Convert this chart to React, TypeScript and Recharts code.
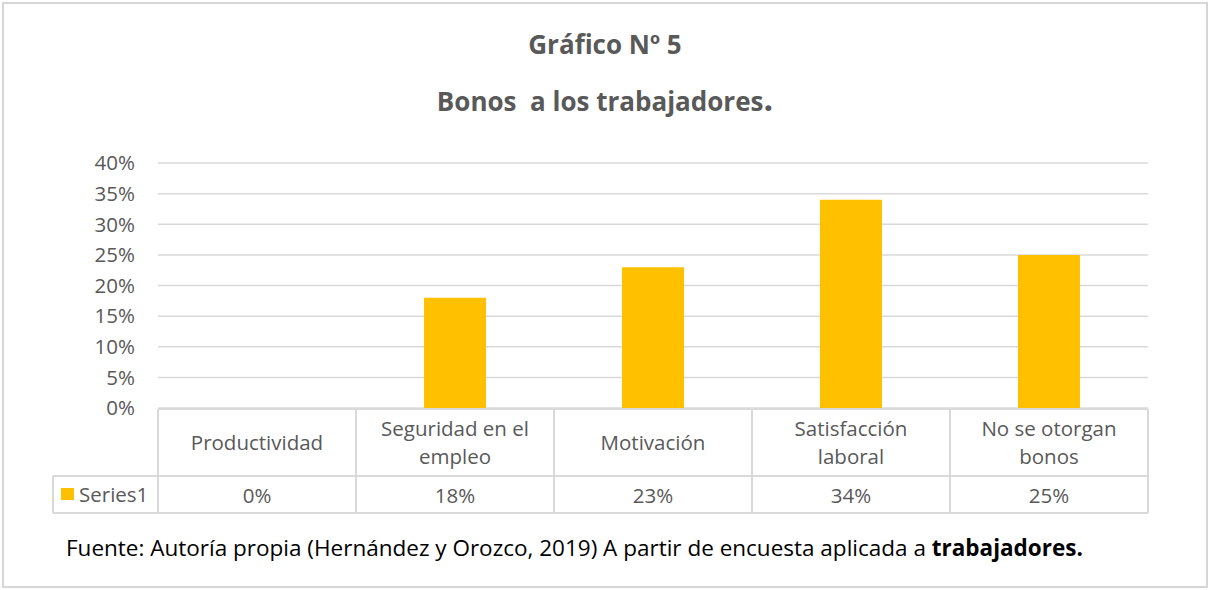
import { Bar, BarChart, CartesianGrid, XAxis, YAxis } from "recharts";

const categories = [
  "Productividad",
  "Seguridad en el empleo",
  "Motivación",
  "Satisfacción laboral",
  "No se otorgan bonos",
];
const series1 = [0, 0.18, 0.23, 0.34, 0.25];
const yTicks = [0, 0.05, 0.1, 0.15, 0.2, 0.25, 0.3, 0.35, 0.4];
const seriesName = "Series1";

const data = categories.map((c, i) => ({ name: c, value: series1[i] }));

const W = 1210;
const H = 590;
const PLOT_LEFT = 158;
const PLOT_RIGHT = 1148;
const PLOT_TOP = 163;
const TABLE_H = 105;
const BOTTOM = 77;
const PLOT_BOTTOM = H - BOTTOM - TABLE_H;
const ROW_SPLIT = 476;
const TABLE_BOTTOM = PLOT_BOTTOM + TABLE_H;
const BAND = (PLOT_RIGHT - PLOT_LEFT) / categories.length;
const LEGEND_LEFT = 53;

const GOLD = "#FFC000";
const GRID = "#D9D9D9";
const TEXT = "#595959";
const FONT = "'Open Sans', sans-serif";
const CELL_FONT = 20.5;

const pct = (v: number) => `${Math.round(v * 100)}%`;

function wrap(label: string, max = 15) {
  const lines: string[] = [];
  let cur = "";
  for (const w of label.split(" ")) {
    const next = cur ? `${cur} ${w}` : w;
    if (next.length > max && cur) {
      lines.push(cur);
      cur = w;
    } else cur = next;
  }
  if (cur) lines.push(cur);
  return lines;
}

function TableTick(props: any) {
  const { x, index, payload } = props;
  const l = x - BAND / 2;
  const r = x + BAND / 2;
  const lines = wrap(String(payload.value));
  const midTop = (PLOT_BOTTOM + ROW_SPLIT) / 2;
  const lh = 28;
  const startY = midTop - ((lines.length - 1) * lh) / 2;
  const top = PLOT_BOTTOM + 1;
  return (
    <g>
      <line x1={l} x2={r} y1={top} y2={top} stroke={GRID} strokeWidth={2} />
      <line x1={l} x2={r} y1={ROW_SPLIT} y2={ROW_SPLIT} stroke={GRID} strokeWidth={2} />
      <line x1={l} x2={r} y1={TABLE_BOTTOM} y2={TABLE_BOTTOM} stroke={GRID} strokeWidth={2} />
      <line x1={r} x2={r} y1={top} y2={TABLE_BOTTOM} stroke={GRID} strokeWidth={2} />
      {index === 0 && (
        <g>
          <line x1={l} x2={l} y1={top} y2={TABLE_BOTTOM} stroke={GRID} strokeWidth={2} />
          <line x1={LEGEND_LEFT} x2={l} y1={ROW_SPLIT} y2={ROW_SPLIT} stroke={GRID} strokeWidth={2} />
          <line x1={LEGEND_LEFT} x2={l} y1={TABLE_BOTTOM} y2={TABLE_BOTTOM} stroke={GRID} strokeWidth={2} />
          <line x1={LEGEND_LEFT} x2={LEGEND_LEFT} y1={ROW_SPLIT} y2={TABLE_BOTTOM} stroke={GRID} strokeWidth={2} />
          <rect x={LEGEND_LEFT + 8} y={488} width={13} height={12} fill={GOLD} />
          <text x={LEGEND_LEFT + 26} y={494} dominantBaseline="central" fill={TEXT} fontSize={CELL_FONT} fontFamily={FONT}>
            {seriesName}
          </text>
        </g>
      )}
      {lines.map((ln, i) => (
        <text
          key={i}
          x={x}
          y={startY + i * lh}
          textAnchor="middle"
          dominantBaseline="central"
          fill={TEXT}
          fontSize={CELL_FONT}
          fontFamily={FONT}
        >
          {ln}
        </text>
      ))}
      <text
        x={x}
        y={(ROW_SPLIT + TABLE_BOTTOM) / 2}
        textAnchor="middle"
        dominantBaseline="central"
        fill={TEXT}
        fontSize={CELL_FONT}
        fontFamily={FONT}
      >
        {pct(series1[index])}
      </text>
    </g>
  );
}

export default function App() {
  const titleStyle = {
    position: "absolute" as const,
    left: 0,
    width: W,
    textAlign: "center" as const,
    fontFamily: FONT,
    fontWeight: 700,
    fontSize: 26,
    color: TEXT,
    lineHeight: "34px",
    whiteSpace: "pre" as const,
  };
  return (
    <div
      style={{
        position: "fixed",
        left: 0,
        top: 0,
        width: W,
        height: H,
        background: "#fff",
        overflow: "hidden",
      }}
    >
      <div
        style={{
          position: "absolute",
          left: 2,
          top: 2,
          width: 1206,
          height: 586,
          border: "2px solid #D6D6D6",
          boxSizing: "border-box",
        }}
      />
      <div style={{ ...titleStyle, top: 27 }}>Gráfico Nº 5</div>
      <div style={{ ...titleStyle, top: 81 }}>
        {"Bonos  a los trabajadores"}
        <span style={{ fontSize: 34 }}>.</span>
      </div>
      <div style={{ position: "absolute", left: 0, top: 0 }}>
        <BarChart
          width={W}
          height={H}
          data={data}
          margin={{ top: PLOT_TOP, right: W - PLOT_RIGHT, bottom: BOTTOM, left: 0 }}
        >
          <CartesianGrid vertical={false} stroke={GRID} strokeWidth={1.5} />
          <YAxis
            width={PLOT_LEFT}
            domain={[0, 0.4]}
            ticks={yTicks}
            tickFormatter={pct}
            axisLine={false}
            tickLine={false}
            tickSize={0}
            tickMargin={23}
            tick={{ fill: TEXT, fontSize: CELL_FONT, fontFamily: FONT }}
          />
          <XAxis
            dataKey="name"
            height={TABLE_H}
            axisLine={false}
            tickLine={false}
            interval={0}
            tick={<TableTick />}
          />
          <Bar dataKey="value" fill={GOLD} barSize={62} isAnimationActive={false} />
        </BarChart>
      </div>
      <div
        style={{
          position: "absolute",
          left: 66,
          top: 533,
          fontFamily: FONT,
          fontSize: 22.5,
          lineHeight: "30px",
          color: "#000",
          whiteSpace: "nowrap",
        }}
      >
        Fuente: Autoría propia (Hernández y Orozco, 2019) A partir de encuesta aplicada a{" "}
        <b>trabajadores.</b>
      </div>
    </div>
  );
}
